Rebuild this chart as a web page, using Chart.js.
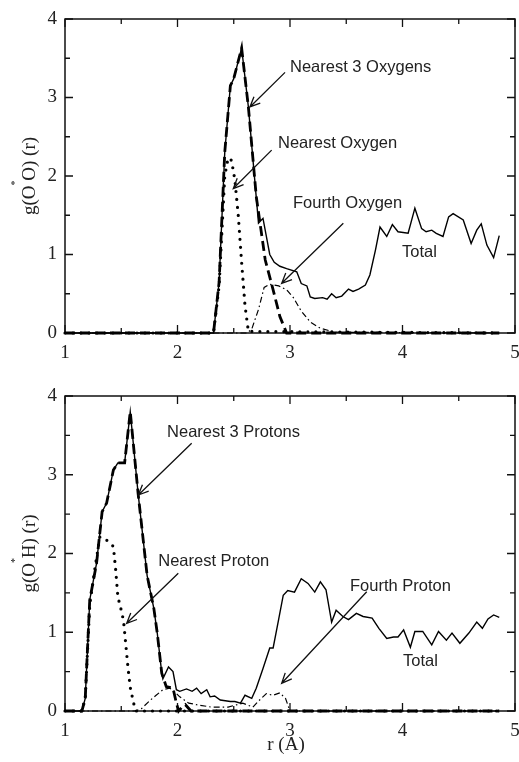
<!DOCTYPE html>
<html>
<head>
<meta charset="utf-8">
<script src="https://cdn.jsdelivr.net/npm/chart.js@4.4.0/dist/chart.umd.min.js"></script>
<style>
  body { margin: 0; background: #fff; }
  canvas { position: absolute; left: 0; }
  #chart1 { top: 0; }
  #chart2 { top: 365px; }
</style>
</head>
<body>
<canvas id="chart1" width="519" height="365"></canvas>
<canvas id="chart2" width="519" height="397"></canvas>
<script>
// Ejes
var ticksX = [1, 2, 3, 4, 5];
var ticksY = [0, 1, 2, 3, 4];
var menoresX = [1.5, 2.5, 3.5, 4.5];
var menoresY = [0.5, 1.5, 2.5, 3.5];

// Panel superior: g(O*O)(r)
var rTotalOO = [1.00, 2.32, 2.37, 2.42, 2.47, 2.50, 2.57, 2.63, 2.72, 2.76, 2.82, 2.86, 2.91, 2.97, 3.06, 3.10, 3.15, 3.18, 3.22, 3.29, 3.33, 3.37, 3.41, 3.46, 3.52, 3.56, 3.61, 3.67, 3.71, 3.76, 3.80, 3.86, 3.91, 3.96, 4.05, 4.11, 4.17, 4.21, 4.26, 4.30, 4.36, 4.41, 4.45, 4.54, 4.61, 4.66, 4.70, 4.75, 4.81, 4.86];
var gTotalOO = [0, 0, 0.65, 2.30, 3.15, 3.24, 3.63, 2.88, 1.40, 1.46, 1.00, 0.90, 0.85, 0.82, 0.78, 0.63, 0.60, 0.46, 0.44, 0.45, 0.43, 0.50, 0.45, 0.47, 0.56, 0.53, 0.56, 0.61, 0.74, 1.06, 1.35, 1.23, 1.38, 1.29, 1.27, 1.59, 1.33, 1.29, 1.31, 1.27, 1.23, 1.48, 1.52, 1.44, 1.14, 1.31, 1.39, 1.12, 0.96, 1.24];
var r3OO = [1.00, 2.32, 2.37, 2.42, 2.47, 2.50, 2.57, 2.63, 2.70, 2.78, 2.85, 2.91, 2.97, 4.86];
var g3OO = [0, 0, 0.65, 2.30, 3.15, 3.24, 3.63, 2.88, 1.74, 0.93, 0.55, 0.21, 0, 0];
var r1OO = [1.00, 2.32, 2.37, 2.42, 2.45, 2.48, 2.51, 2.54, 2.57, 2.60, 2.63, 4.86];
var g1OO = [0, 0, 0.60, 2.00, 2.23, 2.20, 1.95, 1.50, 0.90, 0.35, 0.02, 0];
var r4OO = [1.00, 2.62, 2.66, 2.72, 2.77, 2.82, 2.90, 2.97, 3.03, 3.10, 3.18, 3.27, 3.40, 4.86];
var g4OO = [0, 0, 0.05, 0.30, 0.58, 0.62, 0.60, 0.55, 0.45, 0.28, 0.14, 0.06, 0.01, 0];

// Panel inferior: g(O*H)(r)
var rTotalOH = [1.00, 1.15, 1.18, 1.22, 1.28, 1.33, 1.37, 1.43, 1.47, 1.53, 1.58, 1.65, 1.73, 1.79, 1.82, 1.86, 1.87, 1.92, 1.96, 1.99, 2.02, 2.08, 2.13, 2.17, 2.21, 2.26, 2.29, 2.33, 2.38, 2.47, 2.51, 2.56, 2.60, 2.66, 2.70, 2.76, 2.82, 2.85, 2.90, 2.94, 2.98, 3.04, 3.10, 3.16, 3.22, 3.27, 3.32, 3.37, 3.41, 3.47, 3.52, 3.59, 3.65, 3.73, 3.79, 3.86, 3.92, 3.96, 4.01, 4.07, 4.11, 4.18, 4.26, 4.32, 4.39, 4.44, 4.51, 4.59, 4.66, 4.71, 4.76, 4.81, 4.86];
var gTotalOH = [0, 0, 0.16, 1.41, 1.87, 2.53, 2.64, 3.06, 3.15, 3.15, 3.80, 2.76, 1.72, 1.30, 0.99, 0.48, 0.41, 0.56, 0.50, 0.27, 0.25, 0.28, 0.25, 0.29, 0.22, 0.27, 0.18, 0.19, 0.14, 0.12, 0.12, 0.10, 0.20, 0.16, 0.29, 0.54, 0.80, 0.80, 1.17, 1.47, 1.53, 1.51, 1.68, 1.62, 1.51, 1.64, 1.54, 1.13, 1.28, 1.20, 1.16, 1.24, 1.20, 1.18, 1.05, 0.92, 0.94, 0.94, 1.03, 0.81, 1.01, 1.01, 0.84, 1.01, 0.90, 0.99, 0.86, 0.99, 1.13, 1.05, 1.17, 1.22, 1.19];
var r3OH = [1.00, 1.15, 1.18, 1.22, 1.28, 1.33, 1.37, 1.43, 1.47, 1.53, 1.58, 1.65, 1.73, 1.79, 1.82, 1.86, 1.90, 1.96, 1.99, 2.01, 2.04, 2.07, 2.12, 4.86];
var g3OH = [0, 0, 0.16, 1.41, 1.87, 2.53, 2.64, 3.06, 3.15, 3.15, 3.80, 2.76, 1.72, 1.30, 0.99, 0.48, 0.31, 0.29, 0.10, 0, 0.05, 0.08, 0, 0];
var r1OH = [1.00, 1.15, 1.18, 1.22, 1.27, 1.31, 1.37, 1.43, 1.45, 1.47, 1.50, 1.52, 1.54, 1.56, 1.58, 1.61, 1.63, 4.86];
var g1OH = [0, 0, 0.16, 1.35, 1.85, 2.21, 2.17, 2.09, 1.80, 1.45, 1.28, 1.15, 0.85, 0.55, 0.30, 0.10, 0, 0];
var r4OH = [1.00, 1.62, 1.68, 1.76, 1.81, 1.87, 1.93, 1.97, 2.02, 2.10, 2.17, 2.30, 2.45, 2.58, 2.67, 2.73, 2.79, 2.85, 2.91, 2.96, 2.98, 3.00, 4.86];
var g4OH = [0, 0, 0.03, 0.14, 0.20, 0.27, 0.29, 0.25, 0.18, 0.10, 0.08, 0.05, 0.05, 0.10, 0.05, 0.14, 0.22, 0.20, 0.23, 0.16, 0.08, 0, 0];

// Etiquetas y flechas (en coordenadas de datos)
var etiquetasOO = ["Nearest 3 Oxygens", "Nearest Oxygen", "Fourth Oxygen", "Total"];
var posTextoOO = [[3.0, 3.38], [2.893, 2.42], [3.027, 1.656], [3.996, 1.03]];
var flechasOO = [[2.956, 3.32, 2.644, 2.88], [2.837, 2.33, 2.496, 1.84], [3.474, 1.397, 2.926, 0.633]];

var etiquetasOH = ["Nearest 3 Protons", "Nearest Proton", "Fourth Proton", "Total"];
var posTextoOH = [[1.907, 3.543], [1.829, 1.896], [3.533, 1.587], [4.004, 0.626]];
var flechasOH = [[2.126, 3.40, 1.652, 2.743], [2.007, 1.749, 1.548, 1.114], [3.682, 1.515, 2.926, 0.352]];

function puntos(r, g) {
    return r.map(function (x, i) { return { x: x, y: g[i] }; });
}

function serie(r, g, estilo) {
    var d = { data: puntos(r, g), borderColor: "#000", borderWidth: 1.4, pointRadius: 0, fill: false, clip: false };
    if (estilo == "dash") { d.borderWidth = 2.8; d.borderDash = [10, 5]; }
    if (estilo == "dot") { d.borderWidth = 3.2; d.borderDash = [0, 8]; d.borderCapStyle = "round"; }
    if (estilo == "dashdot") { d.borderWidth = 1.2; d.borderDash = [6, 3, 1.5, 3]; }
    return d;
}

function flecha(ctx, x1, y1, x2, y2) {
    var ang = Math.atan2(y2 - y1, x2 - x1);
    ctx.beginPath();
    ctx.moveTo(x1, y1);
    ctx.lineTo(x2, y2);
    ctx.moveTo(x2 - 11 * Math.cos(ang - 0.42), y2 - 11 * Math.sin(ang - 0.42));
    ctx.lineTo(x2, y2);
    ctx.lineTo(x2 - 11 * Math.cos(ang + 0.42), y2 - 11 * Math.sin(ang + 0.42));
    ctx.stroke();
}

function crearGrafico(id, series, cfg) {
    var marco = {
        id: "marco",
        beforeDatasetsDraw: function (chart) {
            var ctx = chart.ctx, a = chart.chartArea, sx = chart.scales.x, sy = chart.scales.y;
            ctx.save();
            ctx.strokeStyle = "#111";
            ctx.lineWidth = 1.5;
            ctx.strokeRect(a.left, a.top, a.right - a.left, a.bottom - a.top);
            // marcas hacia dentro en los cuatro lados
            ctx.lineWidth = 1.3;
            ctx.beginPath();
            ticksX.concat(menoresX).forEach(function (v) {
                var p = sx.getPixelForValue(v), l = menoresX.indexOf(v) >= 0 ? 5 : 8;
                ctx.moveTo(p, a.bottom); ctx.lineTo(p, a.bottom - l);
                ctx.moveTo(p, a.top); ctx.lineTo(p, a.top + l);
            });
            ticksY.concat(menoresY).forEach(function (v) {
                var p = sy.getPixelForValue(v), l = menoresY.indexOf(v) >= 0 ? 5 : 8;
                ctx.moveTo(a.left, p); ctx.lineTo(a.left + l, p);
                ctx.moveTo(a.right, p); ctx.lineTo(a.right - l, p);
            });
            ctx.stroke();
            ctx.restore();
        },
        afterDraw: function (chart) {
            var ctx = chart.ctx, a = chart.chartArea, sx = chart.scales.x, sy = chart.scales.y;
            ctx.save();
            // textos
            ctx.fillStyle = "#222";
            ctx.font = '16.5px "Liberation Sans"';
            ctx.textAlign = "left";
            ctx.textBaseline = "middle";
            cfg.etiquetas.forEach(function (t, i) {
                ctx.fillText(t, sx.getPixelForValue(cfg.posTexto[i][0]), sy.getPixelForValue(cfg.posTexto[i][1]));
            });
            ctx.strokeStyle = "#111";
            ctx.lineWidth = 1.3;
            cfg.flechas.forEach(function (f) {
                flecha(ctx, sx.getPixelForValue(f[0]), sy.getPixelForValue(f[1]), sx.getPixelForValue(f[2]), sy.getPixelForValue(f[3]));
            });
            // titulo del eje y: g(O*O) (r)
            ctx.font = '19px "Liberation Serif"';
            var w1 = ctx.measureText("g(O").width;
            var ws = ctx.measureText(" ").width;
            var w2 = ctx.measureText(cfg.tituloY).width;
            var x0 = -(w1 + ws + w2) / 2;
            ctx.translate(30, (a.top + a.bottom) / 2);
            ctx.rotate(-Math.PI / 2);
            ctx.fillText("g(O", x0, 0);
            ctx.fillText(cfg.tituloY, x0 + w1 + ws, 0);
            ctx.font = '10px "Liberation Serif"';
            ctx.textAlign = "center";
            ctx.fillText("*", x0 + w1 + ws / 2, -15);
            ctx.restore();
            if (cfg.tituloX) {
                ctx.save();
                ctx.fillStyle = "#222";
                ctx.font = '19px "Liberation Serif"';
                ctx.textAlign = "center";
                ctx.textBaseline = "middle";
                ctx.fillText(cfg.tituloX, (a.left + a.right) / 2 - 4, chart.height - 17);
                ctx.restore();
            }
        }
    };

    new Chart(id, {
        type: "line",
        data: { datasets: series },
        options: {
            responsive: false,
            animation: false,
            events: [],
            layout: { padding: { top: cfg.arriba, right: 4, left: 0, bottom: 0 } },
            plugins: { legend: { display: false }, tooltip: { enabled: false } },
            elements: { point: { radius: 0 }, line: { tension: 0 } },
            scales: {
                x: {
                    type: "linear", min: 1, max: 5,
                    grid: { display: false }, border: { display: false },
                    afterBuildTicks: function (s) { s.ticks = ticksX.map(function (v) { return { value: v }; }); },
                    afterFit: function (s) { s.height = cfg.altoX; s.paddingLeft = 0; s.paddingRight = 0; },
                    ticks: { font: { family: '"Liberation Serif"', size: 19 }, color: "#222", padding: 1, maxRotation: 0, autoSkip: false }
                },
                y: {
                    type: "linear", min: 0, max: 4,
                    grid: { display: false }, border: { display: false },
                    afterBuildTicks: function (s) { s.ticks = ticksY.map(function (v) { return { value: v }; }); },
                    afterFit: function (s) { s.width = 65; s.paddingTop = 0; s.paddingBottom = 0; },
                    ticks: { font: { family: '"Liberation Serif"', size: 19 }, color: "#222", padding: 0 }
                }
            }
        },
        plugins: [marco]
    });
}

crearGrafico("chart1", [
    serie(rTotalOO, gTotalOO, "solid"),
    serie(r3OO, g3OO, "dash"),
    serie(r1OO, g1OO, "dot"),
    serie(r4OO, g4OO, "dashdot")
], { arriba: 19, altoX: 32, etiquetas: etiquetasOO, posTexto: posTextoOO, flechas: flechasOO, tituloY: "O) (r)" });

crearGrafico("chart2", [
    serie(rTotalOH, gTotalOH, "solid"),
    serie(r3OH, g3OH, "dash"),
    serie(r1OH, g1OH, "dot"),
    serie(r4OH, g4OH, "dashdot")
], { arriba: 31, altoX: 51, etiquetas: etiquetasOH, posTexto: posTextoOH, flechas: flechasOH, tituloY: "H) (r)", tituloX: "r (A)" });
</script>
</body>
</html>
